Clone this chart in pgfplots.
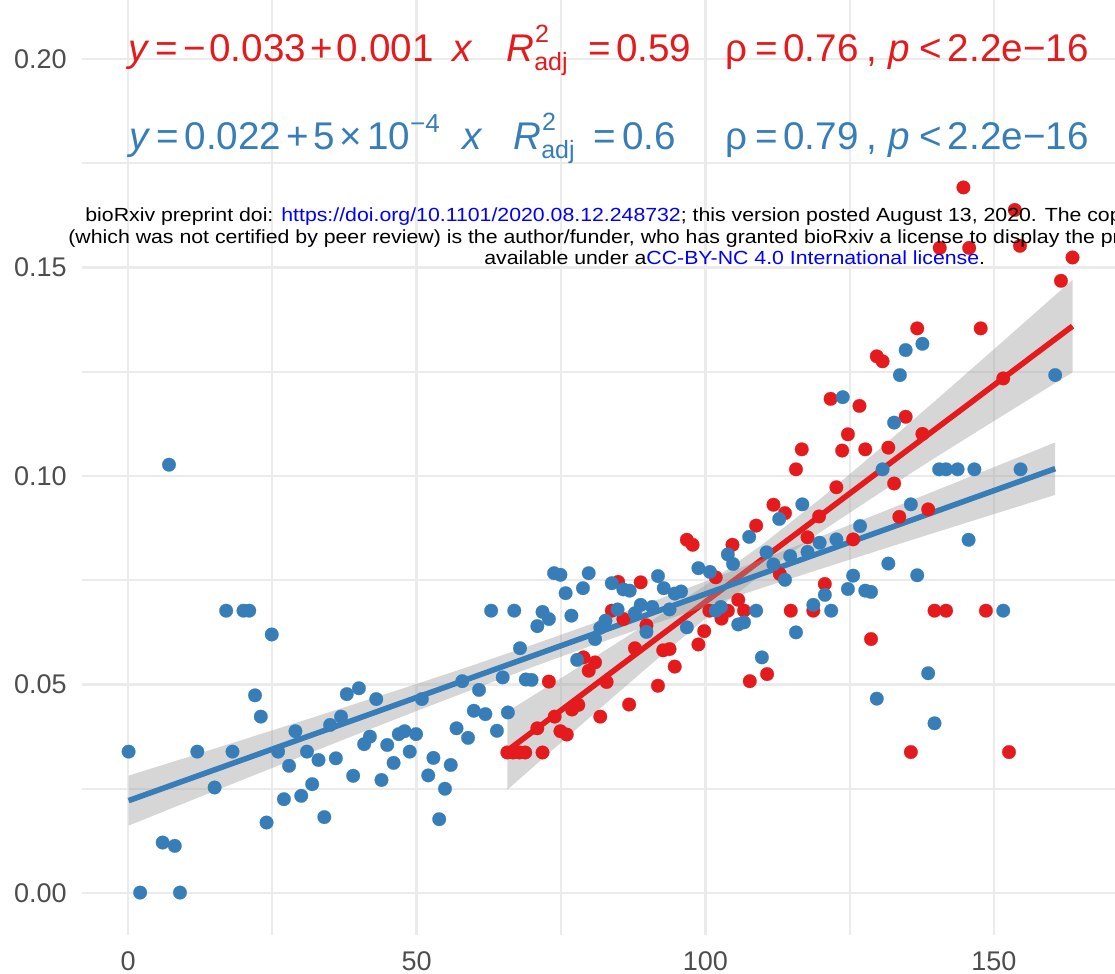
\documentclass[border=0pt]{standalone}
\usepackage{fontspec}
\setmainfont{Liberation Sans}
\usepackage{graphicx}
\usepackage{pgfplots}
\pgfplotsset{compat=1.18}
\definecolor{setred}{HTML}{E41A1C}
\definecolor{setblue}{HTML}{377EB8}
\definecolor{gridgray}{HTML}{EBEBEB}
\definecolor{ticktext}{HTML}{4D4D4D}
\definecolor{band}{HTML}{999999}
\newcommand{\Radj}{\textit{R}\makebox[0pt][l]{\hspace{0.02em}\raisebox{0.5em}{\fontsize{12.5}{12.5}\selectfont 2}}\raisebox{-0.22em}{\fontsize{12.5}{12.5}\selectfont adj}}

\begin{document}
\begin{tikzpicture}
\begin{axis}[
  scale only axis, width=516.5pt, height=467.5pt,
  xmin=-7.97, xmax=170.96, ymin=-0.01007, ymax=0.21415,
  axis line style={draw=none},
  major tick style={draw=none}, minor tick style={draw=none},
  xtick={0,50,100,150}, ytick={0,0.05,0.1,0.15,0.2},
  xticklabels={0,50,100,150}, yticklabels={0.00,0.05,0.10,0.15,0.20},
  minor xtick={25,75,125}, minor ytick={0.025,0.075,0.125,0.175},
  grid=both,
  major grid style={gridgray, line width=1.35pt},
  minor grid style={gridgray, line width=0.85pt},
  ticklabel style={font=\fontsize{13.5}{13.5}\selectfont, text=ticktext, inner sep=0pt},
  yticklabel style={anchor=east, xshift=-7.5pt},
  xticklabel style={anchor=north, yshift=-8pt},
]
% red group
\addplot[only marks, mark=*, mark size=3.4pt, mark options={draw=setred, fill=setred, line width=0.1pt}] coordinates {
(65.7,0.0337) (66.7,0.0337) (67.8,0.0337) (68.8,0.0337) (70.9,0.0395) (71.8,0.0337)
(72.9,0.0507) (73.9,0.0423) (74.9,0.0388) (76.0,0.0380) (76.9,0.0440) (78.0,0.0451)
(78.9,0.0565) (79.8,0.0533) (80.9,0.0553) (81.8,0.0423) (82.9,0.0506) (83.8,0.0677)
(84.9,0.0746) (85.8,0.0657) (86.8,0.0452) (87.8,0.0587) (88.8,0.0745) (89.8,0.0642)
(91.8,0.0497) (92.7,0.0582) (93.8,0.0585) (94.7,0.0543) (96.8,0.0847) (97.8,0.0835)
(98.8,0.0596) (99.8,0.0628) (100.7,0.0677) (101.8,0.0757) (102.8,0.0658) (103.9,0.0677)
(104.7,0.0835) (105.7,0.0703) (106.7,0.0677) (107.7,0.0508) (108.8,0.0881) (110.7,0.0525)
(111.8,0.0931) (112.9,0.0765) (113.8,0.0911) (114.8,0.0677) (115.7,0.1016) (116.7,0.1064)
(117.7,0.0853) (118.7,0.0677) (119.7,0.0903) (120.7,0.0741) (121.7,0.1185) (122.7,0.0973)
(123.7,0.1061) (124.7,0.1100) (125.6,0.0848) (126.7,0.1168) (127.7,0.1064) (128.7,0.0609)
(129.7,0.1287) (130.7,0.1275) (131.7,0.1068) (132.7,0.0982) (133.6,0.0902) (134.7,0.1142)
(135.6,0.0338) (136.7,0.1354) (137.6,0.1101) (138.6,0.0920) (139.7,0.0677) (140.6,0.1547)
(141.7,0.0677) (144.7,0.1692) (145.7,0.1547) (147.7,0.1354) (148.6,0.0677) (151.6,0.1234)
(152.6,0.0338) (153.6,0.1638) (154.5,0.1552) (161.6,0.1468) (163.6,0.1524)
};
% blue group
\addplot[only marks, mark=*, mark size=3.4pt, mark options={draw=setblue, fill=setblue, line width=0.1pt}] coordinates {
(0.1,0.0339) (2.1,0.0001) (6.0,0.0121) (8.1,0.0113) (9.0,0.0001) (7.1,0.1027)
(12.0,0.0339) (15.0,0.0253) (17.0,0.0677) (18.1,0.0339) (20.0,0.0677) (21.0,0.0677)
(22.0,0.0474) (23.0,0.0423) (24.0,0.0169) (24.9,0.0620) (26.0,0.0339) (27.0,0.0225)
(27.9,0.0305) (29.0,0.0388) (30.0,0.0233) (31.0,0.0339) (31.9,0.0261) (33.0,0.0319)
(34.0,0.0182) (35.0,0.0403) (36.0,0.0323) (36.9,0.0423) (37.9,0.0477) (39.0,0.0281)
(40.0,0.0491) (40.9,0.0357) (41.9,0.0375) (43.0,0.0465) (43.9,0.0271) (44.9,0.0355)
(46.0,0.0312) (46.9,0.0381) (47.9,0.0388) (48.8,0.0339) (49.9,0.0381) (50.9,0.0465)
(52.0,0.0282) (52.9,0.0324) (53.9,0.0177) (54.9,0.0250) (55.9,0.0307) (56.9,0.0395)
(57.9,0.0508) (58.9,0.0372) (59.9,0.0437) (60.8,0.0487) (61.9,0.0429) (62.9,0.0677)
(63.9,0.0389) (64.9,0.0517) (65.8,0.0433) (66.9,0.0677) (67.9,0.0587) (68.9,0.0512)
(69.9,0.0511) (70.9,0.0640) (71.8,0.0674) (72.9,0.0657) (73.8,0.0767) (74.9,0.0763)
(75.8,0.0719) (76.8,0.0665) (77.8,0.0559) (78.8,0.0731) (79.8,0.0767) (80.9,0.0609)
(81.8,0.0636) (82.7,0.0653) (83.8,0.0743) (84.8,0.0680) (85.8,0.0728) (86.9,0.0725)
(87.8,0.0671) (88.8,0.0691) (89.8,0.0626) (90.8,0.0686) (91.8,0.0760) (92.8,0.0731)
(93.8,0.0680) (94.7,0.0718) (95.8,0.0723) (96.8,0.0637) (98.8,0.0779) (100.8,0.0770)
(101.8,0.0677) (102.7,0.0686) (103.9,0.0812) (104.8,0.0789) (105.7,0.0644) (106.7,0.0649)
(107.6,0.0854) (108.8,0.0677) (109.8,0.0565) (110.6,0.0817) (111.8,0.0788) (112.8,0.0897)
(113.8,0.0751) (114.7,0.0808) (115.7,0.0625) (116.8,0.0932) (117.7,0.0818) (118.7,0.0691)
(119.8,0.0840) (120.7,0.0715) (121.8,0.0677) (122.7,0.0848) (123.8,0.1189) (124.7,0.0729)
(125.6,0.0761) (126.8,0.0880) (127.7,0.0725) (128.7,0.0722) (129.7,0.0466) (130.7,0.1016)
(131.7,0.0790) (132.7,0.1128) (133.7,0.1242) (134.7,0.1302) (135.6,0.0932) (136.7,0.0762)
(137.6,0.1317) (138.6,0.0527) (139.7,0.0407) (140.5,0.1016) (141.7,0.1016) (143.7,0.1016)
(145.6,0.0847) (146.6,0.1016) (151.6,0.0677) (154.6,0.1016) (160.6,0.1242)
};
% red fit and band
\addplot[draw=none, fill=band, fill opacity=0.4] coordinates {
(65.7,0.04351) (70,0.0472) (80,0.05585) (90,0.06466) (100,0.07381) (110,0.0837)
(120,0.09461) (130,0.10626) (140,0.11825) (150,0.1304) (163.6,0.14703)
(163.6,0.12485) (150,0.1132) (140,0.10455) (130,0.09574) (120,0.08659) (110,0.0767)
(100,0.06579) (90,0.05414) (80,0.04215) (70,0.0300) (65.7,0.02475)
} -- cycle;
\addplot[setred, line width=2.8pt] coordinates {(65.7,0.03413) (163.6,0.13594)};
% blue fit and band
\addplot[draw=none, fill=band, fill opacity=0.4] coordinates {
(0.1,0.02814) (10,0.03244) (20,0.03681) (30,0.04120) (40,0.04564) (50,0.05014)
(60,0.05474) (70,0.05948) (80,0.06438) (90,0.06947) (100,0.07471) (110,0.08008)
(120,0.08552) (130,0.09102) (140,0.09656) (150,0.10213) (160.6,0.10805)
(160.6,0.09547) (150,0.09087) (140,0.08652) (130,0.08214) (120,0.07772) (110,0.07324)
(100,0.06869) (90,0.06401) (80,0.05918) (70,0.05416) (60,0.04898) (50,0.04366)
(40,0.03824) (30,0.03276) (20,0.02723) (10,0.02168) (0.1,0.01616)
} -- cycle;
\addplot[setblue, line width=2.8pt] coordinates {(0.1,0.02215) (160.6,0.10176)};
\end{axis}

% fit statistics
\begin{scope}[every node/.style={anchor=base west, inner sep=0pt, font=\fontsize{19.3}{19.3}\selectfont}]
\node[text=setred] at (23pt,436.5pt) {\textit{y}\hspace{0.15em}=\hspace{0.15em}−\hspace{0.08em}0.033\hspace{0.12em}+\hspace{0.1em}0.001\hspace{0.5em}\textit{x}};
\node[text=setred] at (212pt,436.5pt) {\Radj\hspace{0.55em}=\hspace{0.12em}0.59};
\node[text=setred] at (321.5pt,436.5pt) {ρ\hspace{0.2em}=\hspace{0.15em}0.76\hspace{0.22em},\hspace{0.28em}\textit{p}\hspace{0.25em}<\hspace{0.15em}2.2e−16};
\node[text=setblue] at (23.5pt,392.5pt) {\textit{y}\hspace{0.15em}=\hspace{0.15em}0.022\hspace{0.14em}+\hspace{0.12em}5\hspace{0.12em}×\hspace{0.12em}10\raisebox{0.45em}{\fontsize{13}{13}\selectfont −4}\hspace{0.6em}\textit{x}};
\node[text=setblue] at (215.5pt,392.5pt) {\Radj\hspace{0.5em}=\hspace{0.15em}0.6};
\node[text=setblue] at (321.5pt,392.5pt) {ρ\hspace{0.2em}=\hspace{0.15em}0.79\hspace{0.22em},\hspace{0.28em}\textit{p}\hspace{0.25em}<\hspace{0.15em}2.2e−16};
\end{scope}

% preprint header
\begin{scope}[every node/.style={anchor=base west, inner sep=0pt, font=\fontsize{9.5}{9.5}\selectfont}]
\node at (1.5pt,356.5pt) {\scalebox{1.12}[1]{bioRxiv preprint doi: \textcolor{blue}{https://doi.org/10.1101/2020.08.12.248732}; this version posted August 13, 2020. The copyright holder for this preprint}};
\node at (-7pt,345.75pt) {\scalebox{1.12}[1]{(which was not certified by peer review) is the author/funder, who has granted bioRxiv a license to display the preprint in perpetuity. It is made}};
\node at (201pt,335.25pt) {\scalebox{1.12}[1]{available under a\textcolor{blue}{CC-BY-NC 4.0 International license}.}};
\end{scope}

\pgfresetboundingbox
\path[use as bounding box] (-41pt,-19.5pt) rectangle (516.5pt,467.5pt);
\end{tikzpicture}
\end{document}
